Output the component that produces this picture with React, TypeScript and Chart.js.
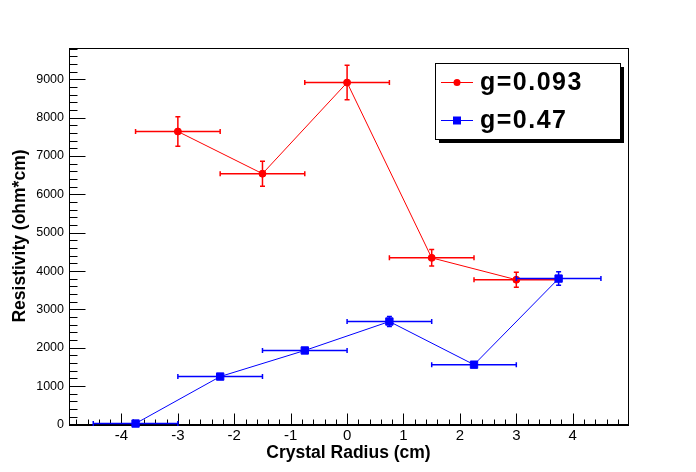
import React, { useEffect, useRef } from "react";
import { Chart, registerables } from "chart.js";

Chart.register(...registerables);

// ---- data ----
const redX = [-3, -1.5, 0, 1.5, 3];
const redY = [7640, 6540, 8915, 4345, 3775];
const redXErr = [0.75, 0.75, 0.75, 0.75, 0.75];
const redYErr = [385, 325, 450, 215, 195];

const blueX = [-3.75, -2.25, -0.75, 0.75, 2.25, 3.75];
const blueY = [25, 1250, 1930, 2685, 1560, 3805];
const blueXErr = [0.75, 0.75, 0.75, 0.75, 0.75, 0.75];
const blueYErr = [20, 60, 60, 130, 50, 175];

const seriesLabels = ["g=0.093", "g=0.47"];
const xTicks = [-4, -3, -2, -1, 0, 1, 2, 3, 4];
const yTicks = [0, 1000, 2000, 3000, 4000, 5000, 6000, 7000, 8000, 9000];
const xTitle = "Crystal Radius (cm)";
const yTitle = "Resistivity (ohm*cm)";

const FONT = "'Liberation Sans', Arial, Helvetica, sans-serif";
const RED = "#ff0000";
const BLUE = "#0000ff";

const framePlugin = {
  id: "rootFrame",
  beforeDatasetsDraw(chart: any) {
    const { ctx, chartArea } = chart;
    const xs = chart.scales.x;
    const ys = chart.scales.y;
    const L = Math.round(chartArea.left) + 0.5;
    const R = Math.round(chartArea.right) + 0.5;
    const T = Math.round(chartArea.top) + 0.5;
    const B = Math.round(chartArea.bottom) + 0.5;
    ctx.save();
    ctx.strokeStyle = "#000";
    ctx.lineWidth = 1;
    ctx.strokeRect(L, T, R - L, B - T);
    ctx.lineWidth = 2;
    ctx.beginPath();
    ctx.moveTo(L - 0.5, Math.round(chartArea.bottom));
    ctx.lineTo(R + 0.5, Math.round(chartArea.bottom));
    ctx.stroke();
    ctx.lineWidth = 1;
    ctx.beginPath();
    for (let k = -50; k <= 50; k++) {
      const v = k * 0.2;
      if (v < xs.min || v > xs.max) continue;
      const major = k % 5 === 0;
      const px = Math.round(xs.getPixelForValue(v)) + 0.5;
      ctx.moveTo(px, B);
      ctx.lineTo(px, B - (major ? 12 : 6));
    }
    for (let k = 0; k <= 60; k++) {
      const v = k * 200;
      if (v < ys.min || v > ys.max) continue;
      const major = k % 5 === 0;
      const py = Math.round(ys.getPixelForValue(v)) + 0.5;
      ctx.moveTo(L, py);
      ctx.lineTo(L + (major ? 16 : 8), py);
    }
    ctx.stroke();
    ctx.restore();
  },
};

const errorBarPlugin = {
  id: "errorBars",
  afterDatasetDraw(chart: any, args: any) {
    const ds: any = chart.data.datasets[args.index];
    if (!ds.xErr) return;
    const { ctx } = chart;
    const xs = chart.scales.x;
    const ys = chart.scales.y;
    const cap = 2.5;
    ctx.save();
    ctx.strokeStyle = ds.borderColor;
    ctx.lineWidth = 1.5;
    ctx.beginPath();
    ds.data.forEach((p: any, i: number) => {
      const cx = xs.getPixelForValue(p.x);
      const cy = ys.getPixelForValue(p.y);
      const x1 = xs.getPixelForValue(p.x - ds.xErr[i]);
      const x2 = xs.getPixelForValue(p.x + ds.xErr[i]);
      const y1 = ys.getPixelForValue(p.y + ds.yErr[i]);
      const y2 = ys.getPixelForValue(p.y - ds.yErr[i]);
      ctx.moveTo(x1, cy);
      ctx.lineTo(x2, cy);
      ctx.moveTo(x1, cy - cap);
      ctx.lineTo(x1, cy + cap);
      ctx.moveTo(x2, cy - cap);
      ctx.lineTo(x2, cy + cap);
      ctx.moveTo(cx, y1);
      ctx.lineTo(cx, y2);
      ctx.moveTo(cx - cap, y1);
      ctx.lineTo(cx + cap, y1);
      ctx.moveTo(cx - cap, y2);
      ctx.lineTo(cx + cap, y2);
    });
    ctx.stroke();
    ctx.restore();
  },
};

const legendPlugin = {
  id: "rootLegend",
  afterDraw(chart: any) {
    const { ctx } = chart;
    const lx = 435, ly = 63, lw = 185, lh = 76;
    ctx.save();
    ctx.fillStyle = "#000";
    ctx.fillRect(lx + 4, ly + 4, lw, lh);
    ctx.fillStyle = "#fff";
    ctx.fillRect(lx, ly, lw, lh);
    ctx.strokeStyle = "#000";
    ctx.lineWidth = 1;
    ctx.strokeRect(lx + 0.5, ly + 0.5, lw, lh);
    const rows = [
      { y: 82, color: RED, style: "circle" },
      { y: 120, color: BLUE, style: "rect" },
    ];
    rows.forEach((r, i) => {
      ctx.strokeStyle = r.color;
      ctx.fillStyle = r.color;
      ctx.lineWidth = 1;
      ctx.beginPath();
      ctx.moveTo(441, r.y + 0.5);
      ctx.lineTo(473, r.y + 0.5);
      ctx.stroke();
      if (r.style === "circle") {
        ctx.beginPath();
        ctx.arc(457, r.y + 0.5, 3.5, 0, Math.PI * 2);
        ctx.fill();
      } else {
        ctx.fillRect(453, r.y - 3.5, 8, 8);
      }
      ctx.fillStyle = "#000";
      ctx.font = `bold 25px ${FONT}`;
      (ctx as any).letterSpacing = "1.5px";
      ctx.textAlign = "left";
      ctx.textBaseline = "middle";
      ctx.fillText(seriesLabels[i], 480, r.y + 1);
    });
    ctx.restore();
  },
};

export default function App() {
  const ref = useRef<HTMLCanvasElement>(null);
  useEffect(() => {
    if (!ref.current) return;
    const chart = new Chart(ref.current, {
      type: "scatter",
      data: {
        datasets: [
          {
            label: seriesLabels[0],
            data: redX.map((x, i) => ({ x, y: redY[i] })),
            xErr: redXErr,
            yErr: redYErr,
            showLine: true,
            borderColor: RED,
            backgroundColor: RED,
            borderWidth: 1,
            pointStyle: "circle",
            pointRadius: 3.5,
            pointBorderWidth: 1,
            pointBorderColor: RED,
            pointBackgroundColor: RED,
            tension: 0,
            clip: false,
            order: 1,
          } as any,
          {
            label: seriesLabels[1],
            data: blueX.map((x, i) => ({ x, y: blueY[i] })),
            xErr: blueXErr,
            yErr: blueYErr,
            showLine: true,
            borderColor: BLUE,
            backgroundColor: BLUE,
            borderWidth: 1,
            pointStyle: "rect",
            pointRadius: 5.2,
            pointBorderWidth: 1,
            pointBorderColor: BLUE,
            pointBackgroundColor: BLUE,
            tension: 0,
            clip: false,
            order: 0,
          } as any,
        ],
      },
      options: {
        animation: false,
        responsive: false,
        maintainAspectRatio: false,
        layout: { padding: { top: 47.5, right: 68, left: 0, bottom: 0 } },
        plugins: {
          legend: { display: false },
          tooltip: { enabled: false },
        },
        scales: {
          x: {
            type: "linear",
            min: -4.93,
            max: 4.98,
            grid: { display: false, drawTicks: false },
            border: { display: false },
            afterBuildTicks: (s: any) => {
              s.ticks = xTicks.map((v) => ({ value: v }));
            },
            afterFit: (s: any) => {
              s.height = 47.5;
            },
            ticks: {
              color: "#000",
              font: { family: FONT, size: 15 },
              padding: 2,
              maxRotation: 0,
              autoSkip: false,
              callback: (v: any) => String(v),
            },
            title: {
              display: true,
              text: xTitle,
              color: "#000",
              font: { family: FONT, size: 17.5, weight: "bold" },
              padding: { top: 8, bottom: 8 },
            },
          },
          y: {
            type: "linear",
            min: 0,
            max: 9830,
            grid: { display: false, drawTicks: false },
            border: { display: false },
            afterBuildTicks: (s: any) => {
              s.ticks = yTicks.map((v) => ({ value: v }));
            },
            afterFit: (s: any) => {
              s.width = 69;
            },
            ticks: {
              color: "#000",
              font: { family: FONT, size: 12.5 },
              padding: 5,
              autoSkip: false,
              callback: (v: any) => String(v),
            },
            title: {
              display: true,
              text: yTitle,
              color: "#000",
              font: { family: FONT, size: 17.5, weight: "bold" },
              padding: { top: 10, bottom: 10 },
            },
          },
        },
      } as any,
      plugins: [framePlugin, errorBarPlugin, legendPlugin],
    });
    return () => chart.destroy();
  }, []);
  return (
    <div
      style={{
        position: "absolute",
        left: 0,
        top: 0,
        width: 696,
        height: 472,
        background: "#fff",
      }}
    >
      <canvas
        ref={ref}
        width={696}
        height={472}
        style={{ display: "block", width: 696, height: 472 }}
      />
    </div>
  );
}
